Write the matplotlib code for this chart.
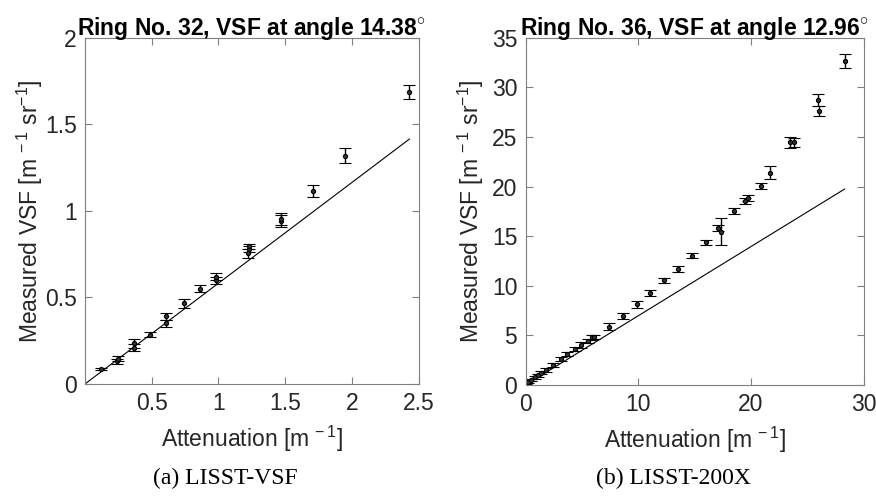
#VSF vs attenuation, two instruments side by side
import matplotlib
matplotlib.use('Agg')
import matplotlib.pyplot as plt
import numpy as np

plt.rcParams['font.family'] = ['Liberation Sans', 'DejaVu Sans']
plt.rcParams['mathtext.fontset'] = 'custom'
plt.rcParams['mathtext.rm'] = 'Liberation Sans'

#LISST-VSF, ring 32
vsf_x = [0.12, 0.24, 0.25, 0.37, 0.37, 0.49, 0.61, 0.61, 0.74, 0.86, 0.98, 0.985,
         1.22, 1.225, 1.23, 1.47, 1.47, 1.71, 1.95, 2.43]
vsf_y = [0.085, 0.13, 0.145, 0.21, 0.235, 0.285, 0.35, 0.39, 0.465, 0.55, 0.60, 0.62,
         0.755, 0.78, 0.795, 0.94, 0.955, 1.115, 1.32, 1.685]
vsf_err = [0.005, 0.015, 0.015, 0.02, 0.025, 0.015, 0.02, 0.02, 0.025, 0.02, 0.02, 0.02,
           0.025, 0.02, 0.015, 0.035, 0.035, 0.035, 0.045, 0.04]
vsf_fit_x = [0, 2.43]
vsf_fit_y = [0, 1.415]

#LISST-200X, ring 36
lx_x = [0.05, 0.2, 0.5, 0.8, 1.1, 1.4, 1.8, 2.4, 3.1, 3.7, 4.35, 4.95, 5.5, 5.85, 6.1,
        7.4, 8.6, 9.85, 11.05, 12.3, 13.5, 14.75, 16.0, 17.1, 17.3, 18.5, 19.45, 19.75,
        20.9, 21.65, 23.5, 23.85, 25.95, 26.0, 28.3]
lx_y = [0.05, 0.25, 0.5, 0.8, 1.0, 1.25, 1.5, 2.0, 2.6, 3.1, 3.65, 4.05, 4.45, 4.8, 4.8,
        5.85, 6.95, 8.15, 9.3, 10.55, 11.7, 13.05, 14.4, 15.85, 15.45, 17.5, 18.55, 18.85,
        20.05, 21.4, 24.45, 24.45, 28.7, 27.65, 32.7]
lx_err = [0.05, 0.1, 0.1, 0.15, 0.15, 0.15, 0.2, 0.2, 0.2, 0.2, 0.2, 0.3, 0.2, 0.25, 0.2,
          0.35, 0.3, 0.35, 0.3, 0.25, 0.3, 0.25, 0.25, 0.3, 1.35, 0.3, 0.3, 0.3,
          0.3, 0.65, 0.55, 0.45, 0.6, 0.5, 0.7]
lx_fit_x = [0, 28.3]
lx_fit_y = [0, 19.75]

titles = ['Ring No. 32, VSF at angle 14.38$^{\\circ}$', 'Ring No. 36, VSF at angle 12.96$^{\\circ}$']
captions = ['(a) LISST-VSF', '(b) LISST-200X']

fs = 16.5

fig = plt.figure(figsize=(8.76, 4.98), dpi=100)
ax1 = fig.add_axes([0.097, 0.229, 0.381, 0.695])
ax2 = fig.add_axes([0.600, 0.227, 0.386, 0.697])

def style(ax):
    for sp in ax.spines.values():
        sp.set_color('#808080')
        sp.set_linewidth(0.8)
    ax.tick_params(direction='in', top=True, right=True, length=5, width=0.8,
                   color='#808080', labelcolor='#262626', labelsize=fs, pad=6)

for ax, x, y, e, fx, fy in [(ax1, vsf_x, vsf_y, vsf_err, vsf_fit_x, vsf_fit_y),
                            (ax2, lx_x, lx_y, lx_err, lx_fit_x, lx_fit_y)]:
    ax.errorbar(x, y, yerr=e, fmt='o', color='black', ms=3, mfc='#333333', mec='black',
                mew=0.8, elinewidth=1.0, capsize=4, capthick=1.2)
    ax.plot(fx, fy, color='black', lw=0.8)
    style(ax)
    ax.set_xlabel('Attenuation [m$^{\\mathregular{\\,-1}}$]', fontsize=fs, color='#262626', labelpad=6)
    ax.set_ylabel('Measured VSF [m$^{\\mathregular{\\,-1}}$ sr$^{\\mathregular{-1}}$]', fontsize=fs, color='#262626')

ax1.yaxis.labelpad = 0

ax1.set_xlim(0, 2.5)
ax1.set_ylim(0, 2)
ax1.set_xticks([0.5, 1, 1.5, 2, 2.5])
ax1.set_xticklabels(['0.5', '1', '1.5', '2', '2.5'])
ax1.set_yticks([0, 0.5, 1, 1.5, 2])
ax1.set_yticklabels(['0', '0.5', '1', '1.5', '2'])

ax2.set_xlim(0, 30)
ax2.set_ylim(0, 35)
ax2.set_xticks([0, 10, 20, 30])
ax2.set_yticks(np.arange(0, 36, 5))

ax1.set_title(titles[0], fontsize=fs, fontweight='bold', pad=2)
ax2.set_title(titles[1], fontsize=fs, fontweight='bold', pad=2)

fig.text(225/876, 1-478/498, captions[0], family='Liberation Serif', fontsize=17,
         ha='center', va='center')
fig.text(673/876, 1-478/498, captions[1], family='Liberation Serif', fontsize=17,
         ha='center', va='center')

fig.savefig('out.png', dpi=100)
